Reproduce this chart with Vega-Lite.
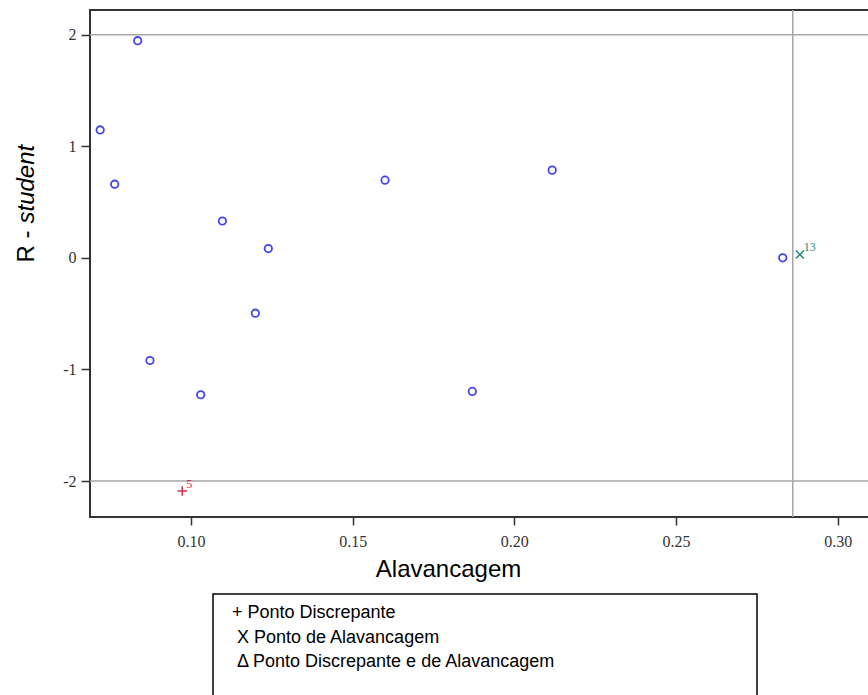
{
  "$schema": "https://vega.github.io/schema/vega-lite/v6.json",
  "width": 790,
  "height": 507,
  "autosize": "none",
  "padding": {"left": 90, "top": 10, "right": 0, "bottom": 178},
  "background": "white",
  "config": {
    "view": {"stroke": "#333333", "strokeWidth": 2},
    "legend": {"strokeWidth": 1.5},
    "axis": {
      "labelFont": "Liberation Serif",
      "labelFontSize": 16,
      "labelColor": "#333333",
      "tickColor": "#333333",
      "tickWidth": 1.5,
      "domain": false,
      "grid": false,
      "titleFont": "Liberation Sans",
      "titleFontSize": 24,
      "titleFontWeight": "normal",
      "titleColor": "#000000"
    }
  },
  "layer": [
    {
      "data": {"values": [{"r": 2}, {"r": -2}]},
      "mark": {"type": "rule", "color": "#a6a6a6", "strokeWidth": 1.5},
      "encoding": {
        "y": {
          "field": "r", "type": "quantitative",
          "scale": {"domain": [-2.3225, 2.221], "nice": false, "zero": false},
          "axis": {
            "title": "R -", "values": [-2, -1, 0, 1, 2],
            "labelExpr": "'' + datum.value",
            "tickSize": 9, "labelPadding": 5,
            "titleAngle": -90, "titleAlign": "left", "titleBaseline": "alphabetic",
            "titleX": -57, "titleY": 252
          }
        }
      }
    },
    {
      "data": {"values": [{"v": 0.2861}]},
      "mark": {"type": "rule", "color": "#a6a6a6", "strokeWidth": 1.5},
      "encoding": {
        "x": {
          "field": "v", "type": "quantitative",
          "scale": {"domain": [0.06876, 0.31308], "nice": false, "zero": false},
          "axis": {
            "title": "Alavancagem", "values": [0.1, 0.15, 0.2, 0.25, 0.3],
            "format": ".2f", "tickSize": 8, "labelPadding": 8,
            "titleX": 358, "titleY": 59, "titleAlign": "center", "titleBaseline": "alphabetic"
          }
        }
      }
    },
    {
      "data": {"name": "pts"},
      "transform": [{"filter": "datum.tipo == 'Normal'"}],
      "mark": {"type": "point", "shape": "circle", "filled": false, "color": "#4343ee", "strokeWidth": 1.8, "size": 55, "opacity": 1},
      "encoding": {
        "x": {"field": "alavancagem", "type": "quantitative"},
        "y": {
          "field": "rstudent", "type": "quantitative",
          "axis": {
            "title": "student", "labels": false, "ticks": false, "domain": false, "grid": false,
            "orient": "left", "titleFontStyle": "italic",
            "titleAngle": -90, "titleAlign": "left", "titleBaseline": "alphabetic",
            "titleX": -57, "titleY": 213
          }
        }
      }
    },
    {
      "data": {"name": "pts"},
      "transform": [{"filter": "datum.tipo != 'Normal'"}],
      "mark": {"type": "point", "filled": false, "strokeWidth": 1.5, "size": 90, "opacity": 1},
      "encoding": {
        "x": {"field": "alavancagem", "type": "quantitative"},
        "y": {"field": "rstudent", "type": "quantitative", "axis": null},
        "shape": {
          "field": "tipo", "type": "nominal",
          "scale": {
            "domain": ["Ponto Discrepante", "Ponto de Alavancagem", "Ponto Discrepante e de Alavancagem", "vazio"],
            "range": ["M-1,0L1,0M0,-1L0,1", "M-0.85,-0.85L0.85,0.85M-0.85,0.85L0.85,-0.85", "triangle-up", "circle"]
          },
          "legend": null
        },
        "color": {
          "field": "tipo", "type": "nominal",
          "scale": {
            "domain": ["Ponto Discrepante", "Ponto de Alavancagem", "Ponto Discrepante e de Alavancagem", "vazio"],
            "range": ["#c8324a", "#1f8a78", "#000000", "#ffffff"]
          },
          "legend": {
            "orient": "none",
            "legendX": 123,
            "legendY": 584,
            "values": ["Ponto Discrepante", "Ponto de Alavancagem", "Ponto Discrepante e de Alavancagem", "vazio"],
            "labelExpr": "datum.label == 'Ponto Discrepante' ? '+ Ponto Discrepante' : datum.label == 'Ponto de Alavancagem' ? '\u200b\u00a0X Ponto de Alavancagem' : datum.label == 'vazio' ? '\u200b\u00a0' : '\u200b\u00a0\u0394 Ponto Discrepante e de Alavancagem'",
            "labelFont": "Liberation Sans",
            "labelFontSize": 18,
            "labelColor": "#000000",
            "labelLimit": 1000,
            "labelOffset": -9,
            "symbolSize": 0,
            "symbolOpacity": 0,
            "symbolStrokeWidth": 0,
            "rowPadding": 6.5,
            "padding": 10,
            "strokeColor": "#000000",
            "title": "\u00a0",
            "titleOrient": "right",
            "titlePadding": 191,
            "titleFontSize": 18
          }
        }
      }
    },
    {
      "data": {"name": "pts"},
      "transform": [{"filter": "datum.tipo != 'Normal'"}],
      "mark": {"type": "text", "font": "Liberation Serif", "fontSize": 12, "align": "left", "baseline": "alphabetic", "dx": 4, "dy": -3},
      "encoding": {
        "x": {"field": "alavancagem", "type": "quantitative"},
        "y": {"field": "rstudent", "type": "quantitative", "axis": null},
        "text": {"field": "id", "type": "nominal"},
        "color": {"field": "tipo", "type": "nominal", "legend": null}
      }
    }
  ],
  "resolve": {"axis": {"y": "independent"}},
  "datasets": {
    "pts": [
      {"id": "1", "alavancagem": 0.0719, "rstudent": 1.146, "tipo": "Normal"},
      {"id": "2", "alavancagem": 0.0835, "rstudent": 1.946, "tipo": "Normal"},
      {"id": "3", "alavancagem": 0.0764, "rstudent": 0.66, "tipo": "Normal"},
      {"id": "4", "alavancagem": 0.0873, "rstudent": -0.92, "tipo": "Normal"},
      {"id": "5", "alavancagem": 0.0973, "rstudent": -2.09, "tipo": "Ponto Discrepante"},
      {"id": "6", "alavancagem": 0.1030, "rstudent": -1.227, "tipo": "Normal"},
      {"id": "7", "alavancagem": 0.1097, "rstudent": 0.33, "tipo": "Normal"},
      {"id": "8", "alavancagem": 0.1199, "rstudent": -0.496, "tipo": "Normal"},
      {"id": "9", "alavancagem": 0.1239, "rstudent": 0.083, "tipo": "Normal"},
      {"id": "10", "alavancagem": 0.1600, "rstudent": 0.696, "tipo": "Normal"},
      {"id": "11", "alavancagem": 0.1870, "rstudent": -1.197, "tipo": "Normal"},
      {"id": "12", "alavancagem": 0.2117, "rstudent": 0.786, "tipo": "Normal"},
      {"id": "14", "alavancagem": 0.2830, "rstudent": 0.0, "tipo": "Normal"},
      {"id": "13", "alavancagem": 0.2883, "rstudent": 0.03, "tipo": "Ponto de Alavancagem"}
    ]
  }
}
